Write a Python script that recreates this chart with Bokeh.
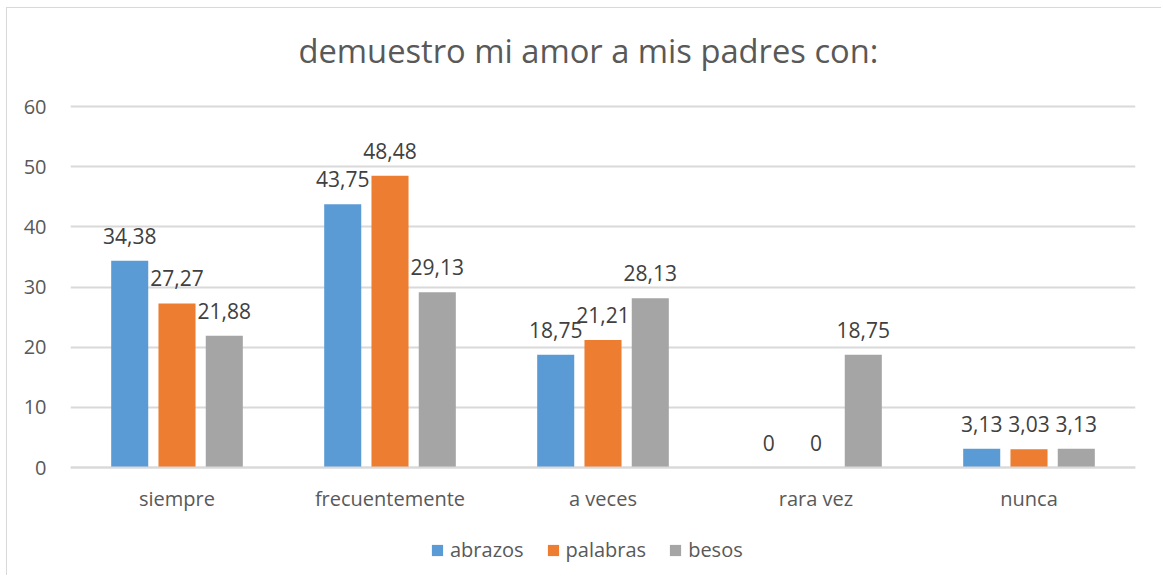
from bokeh.plotting import figure
from bokeh.models import ColumnDataSource, FactorRange, LabelSet, Label, Legend, LegendItem, Range1d, FixedTicker
from bokeh.core.properties import value
from bokeh.transform import dodge
from bokeh.embed import file_html
from bokeh.resources import INLINE

categories = ["siempre", "frecuentemente", "a veces", "rara vez", "nunca"]
series_names = ["abrazos", "palabras", "besos"]
abrazos = [34.38, 43.75, 18.75, 0, 3.13]
palabras = [27.27, 48.48, 21.21, 0, 3.03]
besos = [21.88, 29.13, 28.13, 18.75, 3.13]
colors = ["#5B9BD5", "#ED7D31", "#A5A5A5"]
y_ticks = [0, 10, 20, 30, 40, 50, 60]
title_text = "demuestro mi amor a mis padres con:"

TEXT = "#595959"
GRID = "#d9d9d9"
FONT = "Open Sans"

# layout: 0..60 spans 361 px; frame extends above (title) and below (labels + legend)
PLOT_H = 361
TOP_PX = 98
BOTTOM_PX = 108
FRAME_H = PLOT_H + TOP_PX + BOTTOM_PX
PX_PER_UNIT = PLOT_H / 60
y_min = -BOTTOM_PX / PX_PER_UNIT
y_max = 60 + TOP_PX / PX_PER_UNIT
title_y = 60 + 56 / PX_PER_UNIT


def fmt(v):
    if v == 0:
        return "0"
    return f"{v:.2f}".replace(".", ",")


data = {"cat": categories}
for name, vals in zip(series_names, [abrazos, palabras, besos]):
    data[name] = vals
    data[name + "_lbl"] = [fmt(v) for v in vals]
src = ColumnDataSource(data)

p = figure(
    x_range=FactorRange(factors=categories, range_padding=0),
    y_range=Range1d(y_min, y_max),
    frame_width=1065, frame_height=FRAME_H,
    output_backend="svg", toolbar_location=None,
    min_border_left=63, min_border_right=26,
    min_border_top=0, min_border_bottom=0,
    margin=(7, 0, 0, 6),
)
p.styles = {"border-left": "1px solid #d9d9d9", "border-top": "1px solid #d9d9d9"}

offsets = [-0.222, 0.0, 0.222]
items = []
for name, col, off in zip(series_names, colors, offsets):
    r = p.vbar(x=dodge("cat", off, range=p.x_range), top=name, width=0.174,
               source=src, fill_color=col, line_color=None)
    items.append(LegendItem(label=name, renderers=[r]))
    lbl = LabelSet(x=dodge("cat", off, range=p.x_range), y=name, text=name + "_lbl",
                   source=src, text_align="center", text_baseline="middle",
                   y_offset=25, text_font_size="21px", text_color="#404040",
                   text_font=value(FONT))
    p.add_layout(lbl)

title = Label(x=228, y=title_y, x_units="screen", y_units="data", text=title_text,
              text_align="left", text_baseline="alphabetic",
              text_font_size="32.7px", text_color=TEXT, text_font=FONT)
p.add_layout(title)

p.yaxis.ticker = FixedTicker(ticks=y_ticks)
p.yaxis.axis_line_color = None
p.yaxis.major_tick_line_color = None
p.yaxis.minor_tick_line_color = None
p.yaxis.major_label_standoff = 18
p.yaxis.major_label_text_font_size = "20px"
p.yaxis.major_label_text_color = TEXT
p.yaxis.major_label_text_font = FONT

p.xaxis.fixed_location = 0
p.xaxis.axis_line_color = GRID
p.xaxis.axis_line_width = 2
p.xaxis.major_tick_line_color = None
p.xaxis.minor_tick_line_color = None
p.xaxis.major_label_standoff = 11
p.xaxis.major_label_text_font_size = "20px"
p.xaxis.major_label_text_color = TEXT
p.xaxis.major_label_text_font = FONT

p.xgrid.grid_line_color = None
p.ygrid.grid_line_color = GRID
p.ygrid.grid_line_width = 2
p.outline_line_color = None

legend = Legend(items=items, orientation="horizontal", location=(360, 12),
                glyph_width=14, glyph_height=14, label_text_font_size="20px",
                label_text_color=TEXT, label_text_font=FONT, spacing=22,
                label_standoff=6, border_line_color=None, margin=0, padding=0,
                background_fill_alpha=0)
p.add_layout(legend, "center")

open("out.html", "w").write(file_html(p, INLINE))
